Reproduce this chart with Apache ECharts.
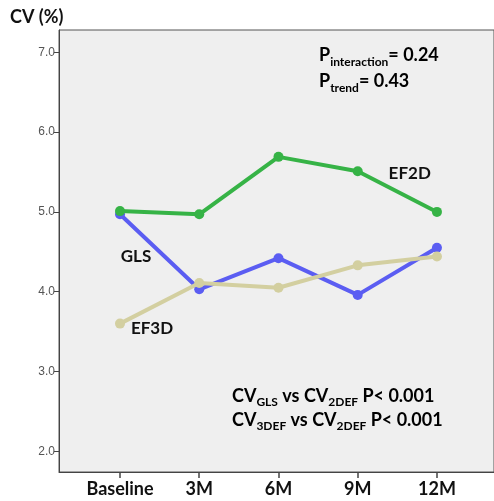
<!DOCTYPE html>
<html>
<head>
<meta charset="utf-8">
<script src="https://cdn.jsdelivr.net/npm/echarts@6/dist/echarts.min.js"></script>
<style>
  html, body { margin: 0; padding: 0; background: #fff; }
  #chart { width: 494px; height: 501px; }
</style>
</head>
<body>
<div id="chart"></div>
<script>
// time points and CV (%) per method
const timePoints = ['Baseline', '3M', '6M', '9M', '12M'];
const glsValues = [4.97, 4.03, 4.42, 3.96, 4.55];
const ef2dValues = [5.01, 4.97, 5.69, 5.51, 5.00];
const ef3dValues = [3.60, 4.11, 4.05, 4.33, 4.44];
const yTicks = [2, 3, 4, 5, 6, 7];
const xTicks = [0, 1, 2, 3, 4];

const chart = echarts.init(document.getElementById('chart'));

const FONT = 'Lato';

// name label sits next to one point of each line
const makeSeries = (name, values, color, labelIdx, offset, z) => ({
	name: name,
	type: 'line',
	symbol: 'circle',
	symbolSize: 10,
	lineStyle: {color: color, width: 4},
	itemStyle: {color: color},
	z: z,
	data: values.map((v, i) => {
		const item = {value: [i, v]};
		if (i === labelIdx) {
			item.label = {
				show: true, position: 'inside', offset: offset,
				formatter: name,
				color: '#111', fontFamily: FONT, fontWeight: 'bold', fontSize: 17
			};
		}
		return item;
	})
});

const richStyle = (lh) => ({
	m: {fontFamily: FONT, fontWeight: 'bold', fontSize: 18, color: '#111', verticalAlign: 'middle', lineHeight: lh},
	s: {fontFamily: FONT, fontWeight: 'bold', fontSize: 12, color: '#111', verticalAlign: 'bottom', lineHeight: lh}
});

const option = {
	animation: false,
	backgroundColor: '#ffffff',
	grid: {
		left: 59, right: -2, top: 30, bottom: 29,
		show: true, backgroundColor: '#efefef', borderColor: '#555', borderWidth: 1
	},
	xAxis: {
		type: 'value',
		min: -0.77, max: 4.72,
		axisLine: {show: true, onZero: false, lineStyle: {color: '#444'}},
		axisTick: {show: true, customValues: xTicks, length: 6, lineStyle: {color: '#444', width: 1.5}},
		axisLabel: {
			customValues: xTicks,
			formatter: (v) => timePoints[Math.round(v)],
			color: '#111', fontFamily: FONT, fontWeight: 'bold', fontSize: 18, margin: 8
		},
		splitLine: {show: false}
	},
	yAxis: {
		type: 'value',
		min: 1.74, max: 7.28,
		axisLine: {show: true, onZero: false, lineStyle: {color: '#444'}},
		axisTick: {show: true, customValues: yTicks, length: 5, lineStyle: {color: '#444'}},
		axisLabel: {
			customValues: yTicks,
			formatter: (v) => v.toFixed(1),
			color: '#555', fontFamily: 'Liberation Sans', fontSize: 12, margin: 4
		},
		splitLine: {show: false}
	},
	series: [
		makeSeries('GLS', glsValues, '#5b5df2', 0, [16, 42], 2),
		makeSeries('EF2D', ef2dValues, '#36b346', 3, [52, 2], 4),
		makeSeries('EF3D', ef3dValues, '#d3cfa0', 0, [32, 5], 3)
	],
	graphic: [
		{
			type: 'text', left: 10, top: 8,
			style: {text: 'CV (%)', fill: '#111', font: 'bold 18px ' + FONT}
		},
		{
			type: 'text', left: 319, top: 46,
			style: {
				text: '{m|P}{s|interaction}{m|= 0.24}\n{m|P}{s|trend}{m|= 0.43}',
				rich: richStyle(26)
			}
		},
		{
			type: 'text', left: 232, top: 387,
			style: {
				text: '{m|CV}{s|GLS}{m| vs CV}{s|2DEF}{m| P< 0.001}\n{m|CV}{s|3DEF}{m| vs CV}{s|2DEF}{m| P< 0.001}',
				rich: richStyle(24)
			}
		}
	]
};

chart.setOption(option);
</script>
</body>
</html>
